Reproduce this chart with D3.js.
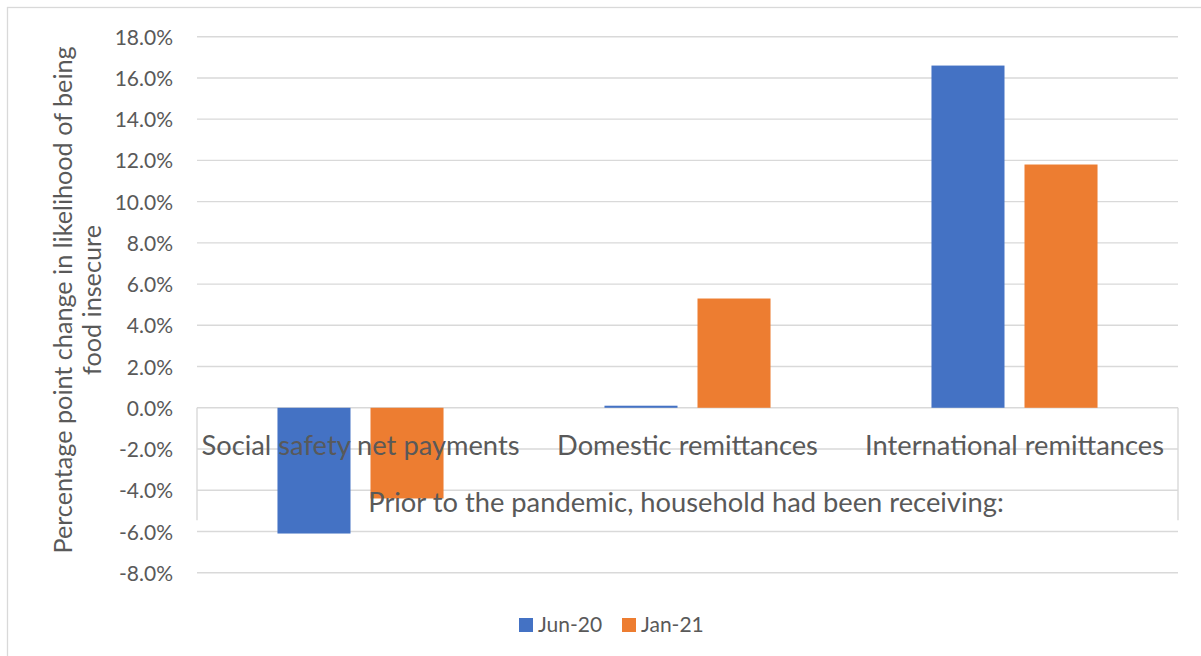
<!DOCTYPE html>
<html>
<head>
<meta charset="utf-8">
<script src="https://cdn.jsdelivr.net/npm/d3@7"></script>
<style>
  html, body { margin: 0; padding: 0; background: #fff; }
  svg { display: block; font-family: Lato, "Open Sans", sans-serif; }
</style>
</head>
<body>
<svg id="chart" width="1201" height="656"></svg>
<script>
// Change in likelihood of food insecurity by pre-pandemic transfer type
const categories = ["Social safety net payments", "Domestic remittances", "International remittances"];
const seriesNames = ["Jun-20", "Jan-21"];
const jun20 = [-6.1, 0.1, 16.6];
const jan21 = [-4.4, 5.3, 11.8];
const yTicks = [-8, -6, -4, -2, 0, 2, 4, 6, 8, 10, 12, 14, 16, 18];
const yTitleLines = ["Percentage point change in likelihood of being", "food insecure"];
const xTitle = "Prior to the pandemic, household had been receiving:";

const colors = { "Jun-20": "#4472C4", "Jan-21": "#ED7D31" };
const textColor = "#595959";
const gridColor = "#D9D9D9";

const svg = d3.select("#chart");

// chart frame
svg.append("rect")
  .attr("x", 7.5).attr("y", 7.5)
  .attr("width", 1210).attr("height", 660)
  .attr("fill", "none").attr("stroke", gridColor).attr("stroke-width", 1.3);

const plot = { left: 197, right: 1178, top: 36.7, bottom: 572.7 };

const y = d3.scaleLinear().domain([-8, 18]).range([plot.bottom, plot.top]);
const x0 = d3.scaleBand().domain(categories).range([plot.left, plot.right]).paddingInner(0).paddingOuter(0);
const x1 = d3.scaleBand().domain(seriesNames).range([0, x0.bandwidth()])
  .paddingInner(0.215).paddingOuter(0.865);

// horizontal gridlines
svg.append("g")
  .selectAll("line")
  .data(yTicks)
  .join("line")
  .attr("x1", plot.left).attr("x2", plot.right)
  .attr("y1", d => y(d)).attr("y2", d => y(d))
  .attr("stroke", gridColor).attr("stroke-width", 1.4);

// category label box sides
const boxBottom = y(-5.45);
[plot.left, plot.right].forEach(xx => {
  svg.append("line")
    .attr("x1", xx).attr("x2", xx)
    .attr("y1", y(0)).attr("y2", boxBottom)
    .attr("stroke", gridColor).attr("stroke-width", 1.4);
});

// y tick labels (plain hyphen for negatives)
const pct = d => d3.format(".1f")(Math.abs(d)) + "%";
const yAxis = d3.axisLeft(y).tickValues(yTicks).tickSize(0).tickPadding(0)
  .tickFormat(d => (d < 0 ? "-" : "") + pct(d));
const yg = svg.append("g").attr("transform", `translate(173,0)`).call(yAxis);
yg.select(".domain").remove();
yg.selectAll("text")
  .attr("fill", textColor)
  .style("font-family", "Lato, sans-serif")
  .style("font-size", "21px")
  .attr("dy", "0.36em");

// bars
const rows = categories.map((c, i) => ({ category: c, values: [
  { series: "Jun-20", value: jun20[i] },
  { series: "Jan-21", value: jan21[i] }
]}));

svg.append("g")
  .selectAll("g")
  .data(rows)
  .join("g")
  .attr("transform", d => `translate(${x0(d.category)},0)`)
  .selectAll("rect")
  .data(d => d.values)
  .join("rect")
  .attr("x", d => x1(d.series))
  .attr("width", x1.bandwidth())
  .attr("y", d => y(Math.max(0, d.value)))
  .attr("height", d => Math.abs(y(d.value) - y(0)))
  .attr("fill", d => colors[d.series]);

// category labels (drawn on top of bars)
svg.append("g")
  .selectAll("text")
  .data(categories)
  .join("text")
  .attr("x", d => x0(d) + x0.bandwidth() / 2)
  .attr("y", 455)
  .attr("text-anchor", "middle")
  .attr("fill", textColor)
  .style("font-size", "27.3px")
  .text(d => d);

// x axis title
svg.append("text")
  .attr("x", 686)
  .attr("y", 512)
  .attr("text-anchor", "middle")
  .attr("fill", textColor)
  .style("font-size", "27.3px")
  .text(xTitle);

// y axis title (two lines, rotated)
const yTitle = svg.append("text")
  .attr("transform", `translate(72,300) rotate(-90)`)
  .attr("text-anchor", "middle")
  .attr("fill", textColor)
  .style("font-size", "25.2px");
yTitle.selectAll("tspan")
  .data(yTitleLines)
  .join("tspan")
  .attr("x", 0)
  .attr("dy", (d, i) => i === 0 ? 0 : 29)
  .text(d => d);

// legend
const legend = svg.append("g").attr("transform", "translate(519,618)");
const legendX = [0, 103];
seriesNames.forEach((s, i) => {
  const g = legend.append("g").attr("transform", `translate(${legendX[i]},0)`);
  g.append("rect").attr("width", 14).attr("height", 14).attr("fill", colors[s]);
  g.append("text").attr("x", 19).attr("y", 14)
    .attr("fill", textColor).style("font-size", "21px").text(s);
});
</script>
</body>
</html>
